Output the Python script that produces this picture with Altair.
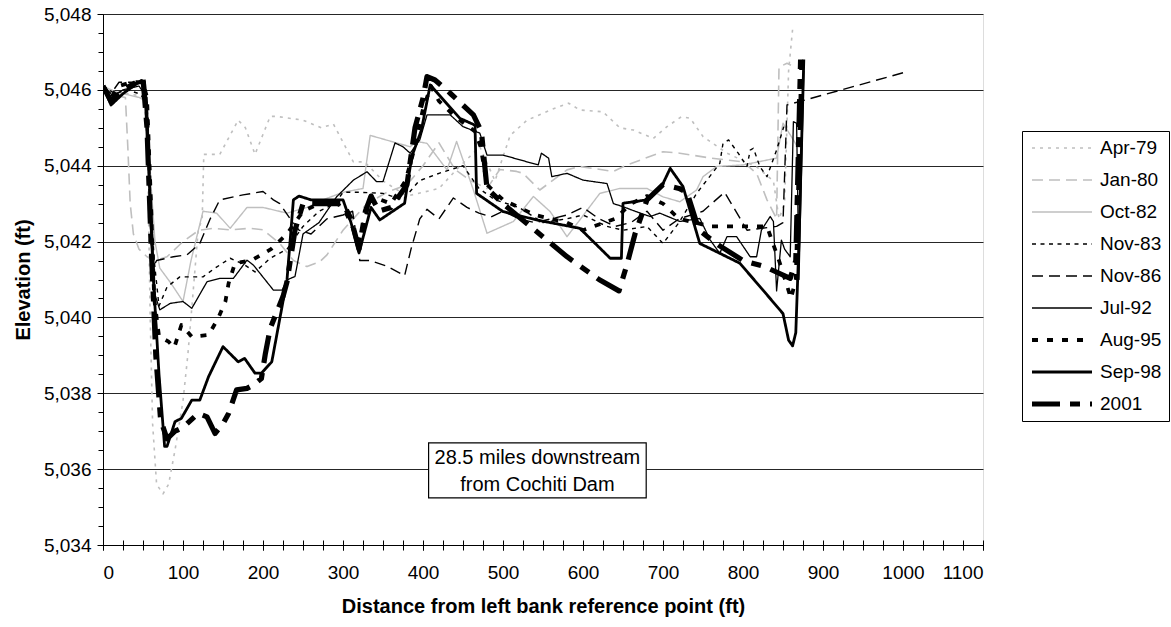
import altair as alt
import pandas as pd

# ---- survey profiles: distance from left bank reference point (ft) / bed elevation (ft)
SURVEYS = ["Apr-79", "Jan-80", "Oct-82", "Nov-83", "Nov-86", "Jul-92", "Aug-95", "Sep-98", "2001"]

apr79_x = [0, 15, 45, 52, 56, 59, 62, 67, 75, 82, 90, 100, 106, 112, 119, 124, 126, 146, 169, 178,
           190, 209, 217, 250, 273, 288, 313, 327, 350, 380, 420, 442, 471, 490, 509, 530, 563, 582, 596, 625,
           646, 663, 688, 705, 723, 734, 750, 780, 817, 838, 845, 852, 857, 862]
apr79_y = [5046.1, 5045.95, 5045.85, 5045.7, 5044.0, 5040.0, 5037.2, 5035.6, 5035.35, 5035.6,
           5036.5, 5037.8, 5039.0, 5040.5, 5042.3, 5042.6, 5044.3, 5044.3, 5045.2, 5045.0,
           5044.3, 5045.3, 5045.3, 5045.2, 5045.0, 5045.1, 5044.1, 5044.1, 5043.6, 5043.2,
           5043.4, 5043.9, 5044.5, 5043.6, 5044.8, 5045.2, 5045.5, 5045.65, 5045.47, 5045.42,
           5045.0, 5044.94, 5044.72, 5045.03, 5045.29, 5045.25, 5044.77, 5044.33, 5043.97, 5043.6,
           5042.6, 5043.0, 5046.5, 5047.6]

jan80_x = [0, 15, 28, 31, 34, 38, 45, 55, 65, 80, 100, 120, 138, 159, 184, 200, 221, 238, 255, 271,
           280, 300, 330, 355, 380, 400, 420, 440, 460, 480, 496, 517, 525, 546, 580, 596, 638, 655, 700, 721,
           760, 800, 817, 830, 842, 845, 855, 860]
jan80_y = [5046.1, 5045.85, 5045.8, 5044.5, 5043.0, 5042.2, 5041.8, 5041.6, 5041.5, 5041.6,
           5042.0, 5042.3, 5042.35, 5042.31, 5042.35, 5042.31, 5041.95, 5041.5, 5041.34, 5041.47,
           5041.65, 5042.3, 5043.0, 5043.3, 5043.5, 5044.0, 5044.6, 5043.9, 5043.6, 5043.4,
           5043.9, 5043.85, 5043.8, 5043.36, 5043.89, 5043.98, 5043.85, 5044.02, 5044.37, 5044.33,
           5044.2, 5044.1, 5043.8, 5043.1, 5042.6, 5046.6, 5046.7, 5046.65]

oct82_x = [0, 15, 45, 55, 60, 65, 71, 85, 100, 110, 125, 142, 159, 180, 200, 230, 255, 275, 300, 325,
           334, 367, 384, 392, 405, 430, 442, 463, 480, 513, 538, 559, 580, 596, 621, 646, 680, 700, 721, 742,
           750, 767, 800, 842, 850, 863, 868]
oct82_y = [5046.1, 5045.95, 5045.8, 5045.7, 5043.5, 5042.0, 5041.3, 5040.9, 5040.42, 5041.5,
           5042.8, 5042.75, 5042.35, 5042.9, 5042.9, 5042.75, 5042.9, 5043.1, 5043.3, 5043.4,
           5044.8, 5044.6, 5044.5, 5044.64, 5044.59, 5043.89, 5044.64, 5043.36, 5042.22, 5042.53,
           5043.19, 5042.79, 5042.13, 5042.57, 5043.27, 5043.4, 5043.4, 5043.18, 5043.05, 5043.36,
           5043.71, 5043.98, 5044.02, 5044.2, 5045.12, 5044.68, 5044.5]

nov83_x = [0, 15, 30, 45, 55, 60, 64, 70, 80, 96, 125, 140, 159, 176, 190, 209, 230, 250, 270, 290,
           300, 321, 350, 375, 395, 420, 450, 470, 490, 520, 550, 580, 600, 630, 650, 680, 700, 720, 742, 771,
           775, 782, 794, 805, 809, 813, 821, 830, 842, 851]
nov83_y = [5046.1, 5045.9, 5046.0, 5045.9, 5045.7, 5043.0, 5041.5, 5040.3, 5040.8, 5041.07,
           5041.07, 5041.3, 5041.56, 5041.4, 5041.2, 5041.56, 5041.8, 5042.4, 5042.8, 5043.0,
           5043.3, 5043.3, 5043.27, 5043.1, 5043.6, 5043.8, 5044.0, 5043.4, 5043.1, 5042.9,
           5042.5, 5042.6, 5042.7, 5042.4, 5042.3, 5042.4, 5041.95, 5042.5, 5043.27, 5044.06,
           5044.59, 5044.68, 5044.33, 5043.98, 5044.41, 5044.46, 5043.98, 5043.71, 5044.41, 5045.03]

nov86_x = [0, 10, 20, 40, 50, 55, 58, 62, 67, 88, 105, 121, 134, 146, 175, 200, 213, 221, 234, 245,
           260, 280, 300, 312, 321, 334, 355, 377, 385, 396, 405, 420, 438, 455, 470, 485, 500, 520, 540, 560,
           580, 600, 620, 640, 660, 680, 700, 720, 750, 777, 805, 842, 850, 855, 1000]
nov86_y = [5046.1, 5045.9, 5046.2, 5046.2, 5046.1, 5045.5, 5043.0, 5041.3, 5041.5, 5041.6,
           5041.65, 5041.95, 5042.6, 5043.1, 5043.23, 5043.32, 5043.1, 5043.0, 5042.6, 5042.3,
           5042.2, 5042.6, 5042.7, 5042.8, 5041.5, 5041.5, 5041.35, 5041.1, 5041.8, 5042.6,
           5042.85, 5042.6, 5043.15, 5042.9, 5042.75, 5042.65, 5042.8, 5042.6, 5042.5, 5042.6,
           5042.7, 5042.9, 5042.6, 5042.4, 5042.5, 5042.8, 5042.3, 5042.6, 5042.8, 5043.3,
           5042.3, 5042.4, 5042.5, 5045.6, 5046.45]

jul92_x = [0, 10, 25, 45, 55, 60, 65, 71, 84, 100, 111, 130, 146, 163, 180, 188, 213, 224, 230, 240,
           250, 270, 292, 313, 330, 342, 350, 365, 375, 384, 396, 405, 434, 450, 471, 480, 500, 544, 548, 557,
           561, 580, 600, 630, 638, 650, 665, 684, 696, 721, 746, 759, 771, 780, 792, 809, 817, 823, 834, 838,
           842, 848, 852, 859, 863, 867, 870, 876]
jul92_y = [5046.1, 5045.8, 5046.0, 5046.1, 5045.8, 5043.0, 5040.6, 5040.2, 5040.37, 5040.42,
           5040.24, 5040.94, 5041.03, 5041.03, 5041.51, 5041.38, 5040.72, 5040.72, 5040.99, 5041.08,
           5042.2, 5042.5, 5043.18, 5043.62, 5043.84, 5043.58, 5043.58, 5044.6, 5044.5, 5044.33,
           5044.68, 5045.34, 5045.34, 5045.03, 5044.86, 5044.28, 5044.28, 5044.02, 5044.33, 5044.2,
           5043.71, 5043.8, 5043.62, 5043.53, 5043.0, 5042.92, 5042.8, 5042.66, 5042.75, 5042.53,
           5042.61, 5042.04, 5041.69, 5042.13, 5042.13, 5041.6, 5041.6, 5042.3, 5042.66, 5042.53,
           5040.7, 5042.04, 5041.8, 5041.6, 5045.16, 5045.12, 5041.0, 5046.5]

aug95_x = [0, 10, 20, 35, 50, 55, 60, 64, 70, 82, 89, 98, 111, 132, 144, 153, 157, 165, 186, 210,
           230, 250, 270, 290, 305, 320, 335, 360, 378, 390, 400, 410, 420, 440, 465, 472, 480, 500, 540, 580,
           600, 640, 660, 680, 700, 720, 740, 760, 830, 845, 860, 866, 873]
aug95_y = [5046.1, 5045.8, 5046.1, 5046.2, 5046.2, 5045.8, 5043.0, 5040.5, 5039.5, 5039.36,
           5039.2, 5039.8, 5039.49, 5039.54, 5039.98, 5040.42, 5040.9, 5041.43, 5041.51, 5041.8,
           5042.2, 5042.8, 5043.0, 5043.1, 5042.7, 5042.0, 5043.2, 5043.0, 5043.6, 5044.5,
           5045.5, 5046.1, 5045.7, 5045.3, 5044.9, 5044.5, 5043.5, 5043.1, 5042.7, 5042.5,
           5042.3, 5042.6, 5043.0, 5043.2, 5043.0, 5042.6, 5042.5, 5042.4, 5042.4, 5041.5,
           5040.5, 5041.0, 5046.8]

sep98_x = [0, 10, 25, 48, 52, 58, 63, 70, 77, 80, 90, 98, 111, 121, 132, 150, 169, 177, 190, 198,
           211, 230, 238, 245, 260, 280, 300, 310, 320, 335, 346, 377, 386, 398, 409, 446, 465, 467, 500, 542,
           596, 634, 648, 650, 680, 700, 709, 725, 746, 796, 825, 850, 857, 862, 866, 870, 876]
sep98_y = [5046.1, 5045.6, 5045.9, 5046.25, 5046.2, 5043.5, 5041.0, 5038.5, 5036.6, 5036.6,
           5037.25, 5037.34, 5037.82, 5037.82, 5038.44, 5039.23, 5038.83, 5038.92, 5038.53, 5038.53,
           5038.83, 5040.99, 5043.1, 5043.2, 5043.1, 5043.1, 5043.1, 5042.5, 5041.7, 5042.9,
           5042.57, 5043.01, 5044.24, 5044.94, 5046.13, 5045.25, 5045.07, 5043.27, 5042.79, 5042.57,
           5042.35, 5041.56, 5041.56, 5043.01, 5043.1, 5043.53, 5043.93, 5043.45, 5041.95, 5041.43,
           5040.72, 5040.1, 5039.4, 5039.25, 5039.6, 5042.0, 5046.8]

y2001_x = [0, 10, 25, 50, 55, 60, 66, 72, 80, 90, 100, 119, 130, 140, 150, 157, 167, 180, 188, 198,
           203, 209, 225, 230, 240, 250, 270, 290, 300, 310, 320, 328, 335, 345, 360, 380, 390, 400, 405, 415,
           434, 463, 473, 480, 500, 540, 580, 620, 645, 655, 665, 680, 700, 720, 730, 745, 770, 800, 827, 859,
           866, 872]
y2001_y = [5046.1, 5045.7, 5046.0, 5046.3, 5045.0, 5042.0, 5039.0, 5037.3, 5036.8, 5037.0,
           5037.1, 5037.47, 5037.38, 5036.94, 5037.2, 5037.47, 5038.09, 5038.13, 5038.22, 5038.39,
           5039.05, 5039.71, 5040.55, 5040.94, 5042.3, 5043.0, 5043.0, 5043.0, 5043.0, 5042.6,
           5041.8, 5042.8, 5043.2, 5042.8, 5042.9, 5043.5, 5045.0, 5045.78, 5046.35, 5046.26,
           5045.91, 5045.34, 5044.9, 5043.4, 5043.0, 5042.3, 5041.6, 5041.0, 5040.7, 5041.4,
           5042.2, 5043.1, 5043.5, 5043.4, 5043.3, 5042.3, 5041.9, 5041.5, 5041.34, 5041.03,
           5041.5, 5046.8]

profiles = [
    ("Apr-79", apr79_x, apr79_y), ("Jan-80", jan80_x, jan80_y), ("Oct-82", oct82_x, oct82_y),
    ("Nov-83", nov83_x, nov83_y), ("Nov-86", nov86_x, nov86_y), ("Jul-92", jul92_x, jul92_y),
    ("Aug-95", aug95_x, aug95_y), ("Sep-98", sep98_x, sep98_y), ("2001", y2001_x, y2001_y),
]

# ---- per-survey line styles
GRAY = "#bfbfbf"
COLORS = [GRAY, GRAY, GRAY, "black", "black", "black", "black", "black", "black"]
DASHES = [[3, 5], [11, 6], [1, 0], [4, 4.5], [11, 6], [1, 0], [6, 9], [1, 0], [28, 10, 10, 10]]
WIDTHS = [1.6, 1.6, 1.4, 1.4, 1.4, 1.3, 3.8, 2.8, 5.2]

# ---- annotation
NOTE_LINES = ["28.5 miles downstream", "from Cochiti Dam"]

rows = []
for name, xs, ys in profiles:
    for i, (x, y) in enumerate(zip(xs, ys)):
        rows.append({"survey": name, "dist": x, "elev": y, "pt": i})
df = pd.DataFrame(rows)

note_box = pd.DataFrame({"x0": [407], "x1": [679], "y0": [5035.24], "y1": [5036.69]})
note_txt = pd.DataFrame({"x": [543, 543], "y": [5036.3, 5035.58], "t": NOTE_LINES})

FONT = "Liberation Sans"
x_scale = alt.Scale(domain=[0, 1100], nice=False, zero=False)
y_scale = alt.Scale(domain=[5034, 5048], nice=False, zero=False)

legend = alt.Legend(
    title=None, orient="none", legendX=919, legendY=117,
    symbolType="stroke", symbolSize=3600, clipHeight=20,
    labelFont=FONT, labelFontSize=19, labelColor="black", labelOffset=5,
    strokeColor="black", fillColor="white",
    padding=7, rowPadding=12, labelLimit=300,
)

x_main = alt.Axis(
    values=list(range(0, 1101, 100)), format="d", title="Distance from left bank reference point (ft)",
    labelFont=FONT, labelFontSize=19, labelColor="black", labelPadding=13,
    tickSize=5, tickColor="black", domainColor="black", grid=False,
    titleFont=FONT, titleFontSize=20, titleFontWeight="bold", titleColor="black", titlePadding=14,
)
y_main = alt.Axis(
    values=list(range(5034, 5049, 2)), format=",d", title="Elevation (ft)",
    labelFont=FONT, labelFontSize=19, labelColor="black", labelPadding=6,
    tickSize=6, tickColor="black", domainColor="black",
    grid=True, gridColor="#262626", gridWidth=1,
    titleFont=FONT, titleFontSize=20, titleFontWeight="bold", titleColor="black", titlePadding=10,
)
# minor tick marks
x_minor = alt.Axis(
    values=list(range(0, 1101, 25)), labels=False, domain=False, grid=False, title=None,
    tickSize=10, offset=-5, tickColor="black", orient="bottom",
)
y_minor = alt.Axis(
    values=[5034 + 0.5 * k for k in range(29)], labels=False, domain=False, grid=False, title=None,
    tickSize=5, tickColor="black", orient="left",
)

lines = alt.Chart(df).mark_line(clip=True, strokeCap="butt", strokeJoin="round").encode(
    x=alt.X("dist:Q", scale=x_scale, axis=x_main),
    y=alt.Y("elev:Q", scale=y_scale, axis=y_main),
    color=alt.Color("survey:O", scale=alt.Scale(type="ordinal", domain=SURVEYS, range=COLORS), legend=legend),
    strokeDash=alt.StrokeDash("survey:O", scale=alt.Scale(type="ordinal", domain=SURVEYS, range=DASHES), legend=legend),
    strokeWidth=alt.StrokeWidth("survey:O", scale=alt.Scale(type="ordinal", domain=SURVEYS, range=WIDTHS), legend=legend),
    order=alt.Order("pt:Q"),
)

box = alt.Chart(note_box).mark_rect(fill="white", stroke="black", strokeWidth=1.2).encode(
    x=alt.X("x0:Q", scale=x_scale, axis=x_minor),
    x2="x1:Q",
    y=alt.Y("y0:Q", scale=y_scale, axis=y_minor),
    y2="y1:Q",
)

text = alt.Chart(note_txt).mark_text(font=FONT, fontSize=20, color="black").encode(
    x=alt.X("x:Q", scale=x_scale, axis=None),
    y=alt.Y("y:Q", scale=y_scale, axis=None),
    text="t:N",
)

chart = alt.layer(lines, box, text).resolve_axis(x="independent", y="independent").properties(
    width=880, height=531,
    padding={"left": 103, "top": 14, "right": 188, "bottom": 82},
    autosize=alt.AutoSizeParams(type="none"),
).configure_view(stroke="black", strokeWidth=1).configure(background="white")

chart.save("out.html", embed_options={"renderer": "svg", "actions": False})
